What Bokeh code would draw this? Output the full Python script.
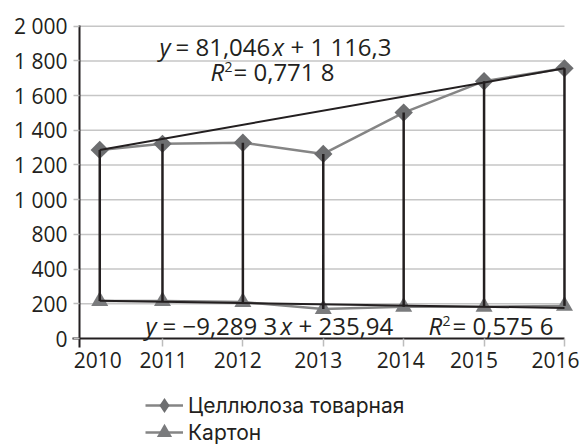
import numpy as np
from bokeh.plotting import figure
from bokeh.models import (Range1d, LinearAxis, FixedTicker, Label, Legend,
                          LegendItem, ColumnDataSource)
from bokeh.embed import file_html
from bokeh.resources import INLINE

# ---------------- data ----------------
years = [2010, 2011, 2012, 2013, 2014, 2015, 2016]
cellulose = [1287, 1322, 1328, 1264, 1502, 1683, 1757]
carton = [216, 216, 210, 170, 183, 183, 188]
cellulose_trend_ends = [1287, 1757]     # drawn trend line, first / last year
carton_trend_ends = [217, 176]
y_tick_values = [0, 200, 400, 800, 1000, 1200, 1400, 1600, 1800, 2000]
y_tick_labels = ["0", "200", "400", "800", "1 000", "1 200", "1 400",
                 "1 600", "1 800", "2 000"]
x_tick_labels = ["2010", "2011", "2012", "2013", "2014", "2015", "2016"]
series_names = ["Целлюлоза товарная", "Картон"]

# ---------------- style ----------------
FONT = "Open Sans"
LEGEND_FONT = "Inter"
TXT = "#231f20"
BLACK = "#231f20"
GRID = "#c6c6c6"
TICK = "#bdbdbd"
LINE_GRAY = "#858585"
DIAMOND = "#6d6e70"
TRI = "#7a7b7d"

W, H = 582, 445
AXIS_X_PX, AXIS_Y_PX, TOP_PX = 79, 338, 25   # y axis column, x axis row, top gridline

# reference's axes: evenly spaced y labels (600 omitted), first year set in
y_slots = [200 * i for i in range(len(y_tick_values))]
def ys(v):
    return np.interp(v, y_tick_values, y_slots)

x_knots = [years[0], years[1], years[-1]]
x_knot_pos = [years[0] + 0.22, years[1], years[-1]]
def xs(v):
    return np.interp(v, x_knots, x_knot_pos)

X_START = 2009.968
PX_PER_YEAR = 80.4
Y_END = 1804
PX_PER_UNIT = (AXIS_Y_PX - TOP_PX) / Y_END
x_label_nudge_px = [-2, 1, -5, -5, -3, -10, -9]

xd = xs(years)
src = ColumnDataSource(dict(x=xd, cell=ys(cellulose), card=ys(carton)))

# the frame covers the whole canvas; axes are pinned with fixed_location
p = figure(width=W, height=H, output_backend="svg", toolbar_location=None,
           x_range=Range1d(X_START - AXIS_X_PX / PX_PER_YEAR,
                           X_START + (W - AXIS_X_PX) / PX_PER_YEAR),
           y_range=Range1d(-(H - AXIS_Y_PX) / PX_PER_UNIT,
                           Y_END + TOP_PX / PX_PER_UNIT),
           x_axis_location=None,
           min_border_left=0, min_border_right=0,
           min_border_top=0, min_border_bottom=0)
p.outline_line_color = None
p.grid.visible = False
p.background_fill_color = "white"

# y axis
ya = p.yaxis[0]
ya.fixed_location = X_START
ya.ticker = FixedTicker(ticks=y_slots)
ya.major_label_overrides = {s: lab for s, lab in zip(y_slots, y_tick_labels)}
ya.major_tick_out = 6
ya.major_tick_in = 0
ya.minor_tick_out = 0
ya.major_tick_line_color = TICK
ya.major_tick_line_width = 1.5
ya.axis_line_color = BLACK
ya.axis_line_width = 2
ya.major_label_standoff = 6
ya.major_label_text_font = FONT
ya.major_label_text_font_size = "21px"
ya.major_label_text_color = TXT
ya.bounds = (-9 / PX_PER_UNIT, Y_END)

# x axis: line + tick marks, drawn at value 0
x_tick_pos = [float(v) for v in xs(years[1:])]
xa = LinearAxis(ticker=FixedTicker(ticks=x_tick_pos),
                major_label_overrides={t: "" for t in x_tick_pos},
                major_label_text_font_size="0px",
                major_tick_out=8, major_tick_in=0,
                major_tick_line_color=TICK, major_tick_line_width=1.5,
                axis_line_color=BLACK, axis_line_width=2,
                major_label_standoff=0, fixed_location=0,
                bounds=(X_START - 7 / PX_PER_YEAR, float(xs(years[-1]))))
p.add_layout(xa, "below")

# x axis: year labels
x_label_pos = [float(v) + n / PX_PER_YEAR for v, n in zip(xd, x_label_nudge_px)]
xl = LinearAxis(ticker=FixedTicker(ticks=x_label_pos),
                major_label_overrides={t: lab for t, lab in zip(x_label_pos, x_tick_labels)},
                axis_line_color=None, major_tick_line_color=None,
                major_tick_out=0, major_tick_in=0, major_label_standoff=13,
                fixed_location=0,
                major_label_text_font=FONT, major_label_text_font_size="21px",
                major_label_text_color=TXT)
p.add_layout(xl, "below")

# gridlines (end at the last year like the reference)
p.segment(x0=X_START, x1=float(xs(years[-1])), y0=y_slots[1:], y1=y_slots[1:],
          line_color=GRID, line_width=1.5)

# series lines
r_cell_line = p.line("x", "cell", source=src, line_color=LINE_GRAY, line_width=2.5)
r_card_line = p.line("x", "card", source=src, line_color=LINE_GRAY, line_width=2.5)

# markers (the plain diamond, hidden under the rotated square, serves the legend)
r_cell_proxy = p.scatter("x", "cell", source=src, marker="diamond", size=17,
                         fill_color=DIAMOND, line_color=None)
r_cell_pts = p.scatter("x", "cell", source=src, marker="square", angle=np.pi / 4,
                       size=13, fill_color=DIAMOND, line_color=None)
r_card_pts = p.scatter("x", "card", source=src, marker="triangle", size=17,
                       fill_color=TRI, line_color=None)

# high-low stems and trend lines
p.segment(x0="x", y0="card", x1="x", y1="cell", source=src,
          line_color=BLACK, line_width=2.5)
p.line(x=[xd[0], xd[-1]], y=ys(cellulose_trend_ends), line_color=BLACK, line_width=2)
p.line(x=[xd[0], xd[-1]], y=ys(carton_trend_ends), line_color=BLACK, line_width=2)

# equations (pieces so that y, x, R are italic); (text, x px, baseline px, size, italic)
eq_pieces = [
    ("y", 159, 55, 24, True), ("= 81,046", 175, 55, 24, False),
    ("x", 272, 55, 24, True), ("+ 1 116,3", 290, 55, 24, False),
    ("R", 210, 80, 24, True), ("2", 224, 72, 14, False),
    ("= 0,771 8", 233, 80, 24, False),
    ("y", 145, 334, 24, True), ("= −9,289 3", 162, 334, 24, False),
    ("x", 280, 334, 24, True), ("+ 235,94", 298, 334, 24, False),
    ("R", 428, 334, 24, True), ("2", 442, 326, 14, False),
    ("= 0,575 6", 452, 334, 24, False),
]
MID = 0.388   # em-box middle above the baseline (Open Sans)
for txt, px, py, sz, it in eq_pieces:
    p.add_layout(Label(x=px, y=H - (py - MID * sz),
                       x_units="screen", y_units="screen", text=txt,
                       text_font=FONT, text_font_size=f"{sz}px",
                       text_font_style="italic" if it else "normal",
                       text_color=TXT, text_baseline="middle",
                       text_align="left"))

# legend: one small legend per row so the rows can sit 27 px apart
GLYPH_W, GLYPH_H = 38, 44
legend_rows = [(series_names[0], [r_cell_line, r_cell_proxy], 405),
               (series_names[1], [r_card_line, r_card_pts], 432)]
for name, rends, cy in legend_rows:
    lg = Legend(items=[LegendItem(label=name, renderers=rends)],
                location=(145, H - (cy + GLYPH_H // 2)),
                orientation="vertical",
                glyph_width=GLYPH_W, glyph_height=GLYPH_H, label_height=20,
                spacing=0, padding=0, margin=0, label_standoff=5,
                label_text_font=LEGEND_FONT, label_text_font_size="21px",
                label_text_color=TXT, border_line_color=None,
                background_fill_alpha=0)
    p.add_layout(lg, "center")

open("out.html", "w").write(file_html(p, INLINE))
